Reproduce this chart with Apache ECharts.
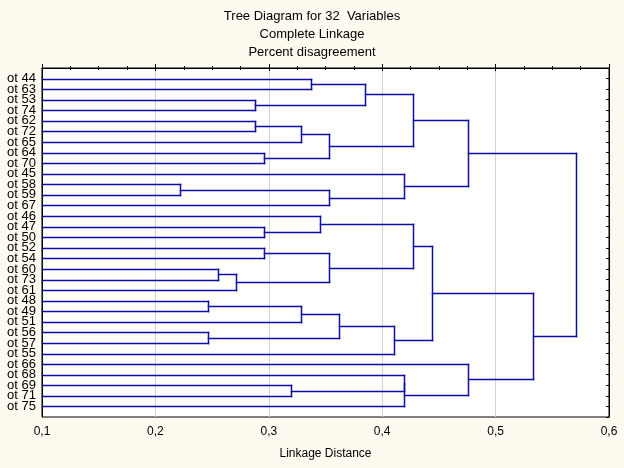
<!DOCTYPE html>
<html>
<head>
<meta charset="utf-8">
<script src="https://cdn.jsdelivr.net/npm/echarts@6/dist/echarts.min.js"></script>
<style>
html,body{margin:0;padding:0;background:#fdfaf0;}
#chart{width:624px;height:468px;}
</style>
</head>
<body>
<div id="chart"></div>
<script>
// Leaf labels, top to bottom
const leafLabels = ['ot 44','ot 63','ot 53','ot 74','ot 62','ot 72','ot 65','ot 64','ot 70','ot 45',
  'ot 58','ot 59','ot 67','ot 46','ot 47','ot 50','ot 52','ot 54','ot 60','ot 73',
  'ot 61','ot 48','ot 49','ot 51','ot 56','ot 57','ot 55','ot 66','ot 68','ot 69','ot 71','ot 75'];
// Linkage: merge k joins mergeLeft[k] and mergeRight[k] (0..31 leaves, 32+j = cluster from merge j)
const mergeLeft  = [0, 2, 32, 4, 35, 7, 36, 34, 10, 40, 9, 39, 14, 13, 16, 18, 47, 46, 45, 21, 51, 24, 52, 54, 50, 29, 28, 58, 27, 56, 43];
const mergeRight = [1, 3, 33, 5, 6, 8, 37, 38, 11, 12, 41, 42, 15, 44, 17, 19, 20, 48, 49, 22, 23, 25, 53, 26, 55, 30, 57, 31, 59, 60, 61];
const mergeHeight = [0.337, 0.288, 0.385, 0.288, 0.328, 0.296, 0.353, 0.427, 0.222, 0.353, 0.419, 0.476,
  0.296, 0.345, 0.296, 0.255, 0.271, 0.353, 0.427, 0.246, 0.328, 0.246, 0.362, 0.410, 0.444,
  0.320, 0.419, 0.419, 0.476, 0.533, 0.571];
const xTicks = [0.1, 0.2, 0.3, 0.4, 0.5, 0.6];

const X_MIN = xTicks[0], X_MAX = xTicks[xTicks.length - 1];
const nLeaf = leafLabels.length;
const ypos = [];
for (let i = 0; i < nLeaf; i++) ypos.push(i + 1);
const segments = [];
const nodeH = (c) => c < nLeaf ? X_MIN : mergeHeight[c - nLeaf];
for (let k = 0; k < mergeLeft.length; k++) {
  const a = mergeLeft[k], b = mergeRight[k], h = mergeHeight[k];
  segments.push([nodeH(a), ypos[a], h, ypos[a]]);
  segments.push([nodeH(b), ypos[b], h, ypos[b]]);
  segments.push([h, ypos[a], h, ypos[b]]);
  ypos[nLeaf + k] = (ypos[a] + ypos[b]) / 2;
}

const chart = echarts.init(document.getElementById('chart'), null, {renderer: 'canvas'});
const fontFam = '"Liberation Sans", Arial, sans-serif';
const crisp = v => Math.round(v) + 0.5;
chart.setOption({
  animation: false,
  backgroundColor: '#fdfaf0',
  title: {
    text: 'Tree Diagram for 32  Variables\nComplete Linkage\nPercent disagreement',
    left: 'center', top: 7, padding: 0,
    textStyle: {fontFamily: fontFam, fontSize: 13, fontWeight: 'normal', color: '#000', lineHeight: 18, align: 'center'}
  },
  grid: {left: 42, right: 15, top: 68, bottom: 51, show: true, backgroundColor: '#ffffff', borderColor: '#000', borderWidth: 1},
  xAxis: [{
    type: 'value', min: X_MIN, max: X_MAX, interval: 0.1, position: 'bottom',
    name: 'Linkage Distance', nameLocation: 'middle', nameGap: 31,
    nameTextStyle: {fontFamily: fontFam, fontSize: 12, color: '#000'},
    axisLine: {show: true, lineStyle: {color: '#000'}},
    axisTick: {show: true, inside: true, length: 4, lineStyle: {color: '#000'}},
    minorTick: {show: true, splitNumber: 4, length: 2, lineStyle: {color: '#000'}},
    axisLabel: {fontFamily: fontFam, fontSize: 12, color: '#000', margin: 9,
      formatter: v => v.toFixed(1).replace('.', ',')},
    splitLine: {show: true, lineStyle: {color: '#d2d2da', width: 1}}
  }, {
    type: 'value', min: X_MIN, max: X_MAX, interval: 0.1, position: 'top',
    axisLine: {show: true, lineStyle: {color: '#000'}},
    axisTick: {show: true, inside: true, length: 3, lineStyle: {color: '#000'}},
    minorTick: {show: true, splitNumber: 4, length: 2, lineStyle: {color: '#000'}},
    axisLabel: {show: false}, splitLine: {show: false}
  }],
  yAxis: [{
    type: 'value', min: 0, max: nLeaf + 1, interval: 1, inverse: true, position: 'left',
    axisLine: {show: true, lineStyle: {color: '#000'}},
    axisTick: {show: false},
    axisLabel: {fontFamily: fontFam, fontSize: 13, color: '#000', margin: 6, lineHeight: 12,
      formatter: v => (v >= 1 && v <= nLeaf) ? leafLabels[v - 1] : ''},
    splitLine: {show: false}
  }, {
    type: 'value', min: 0, max: nLeaf + 1, interval: 1, inverse: true, position: 'right',
    axisLine: {show: true, lineStyle: {color: '#000'}},
    axisTick: {show: true, inside: true, length: 3, lineStyle: {color: '#000'}},
    axisLabel: {show: false}, splitLine: {show: false}
  }],
  series: [{
    type: 'custom', xAxisIndex: 0, yAxisIndex: 0,
    encode: {x: [0, 2], y: [1, 3]},
    data: segments,
    renderItem: function (params, api) {
      const p1 = api.coord([api.value(0), api.value(1)]);
      const p2 = api.coord([api.value(2), api.value(3)]);
      return {
        type: 'line',
        shape: {x1: crisp(p1[0]), y1: crisp(p1[1]), x2: crisp(p2[0]), y2: crisp(p2[1])},
        style: {stroke: '#0e0ea6', lineWidth: 1.5, lineCap: 'square'}
      };
    }
  }]
});
</script>
</body>
</html>
